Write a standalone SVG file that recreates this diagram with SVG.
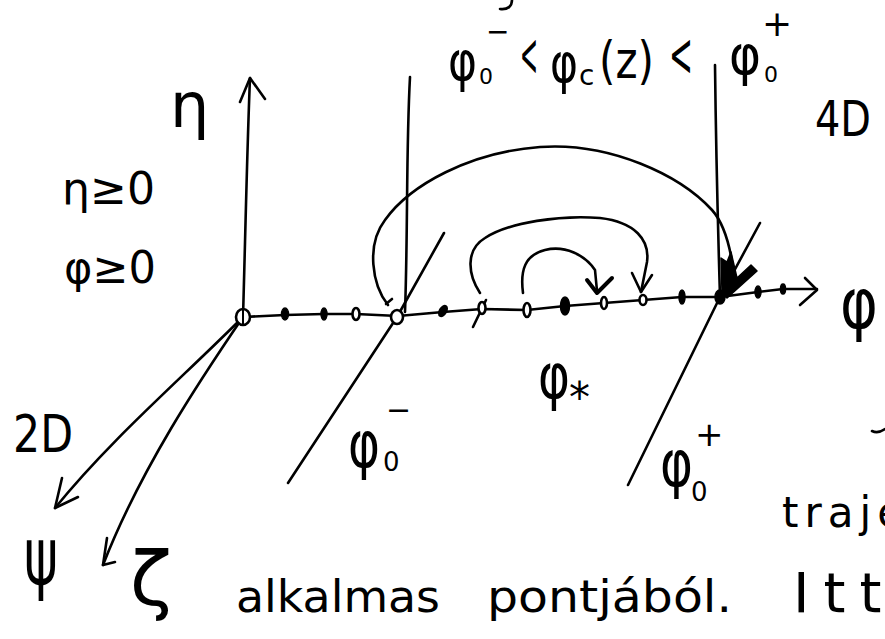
<svg xmlns="http://www.w3.org/2000/svg" width="885" height="639" viewBox="0 0 885 639">
<style>
.ln{fill:none;stroke:#000;stroke-width:2.6;stroke-linecap:round;stroke-linejoin:round}
.bd{fill:none;stroke:#000;stroke-width:4;stroke-linecap:round;stroke-linejoin:round}
.dot{fill:#000;stroke:#000;stroke-width:1.5}
.odot{fill:#fff;stroke:#000;stroke-width:2.6}
.t{font-family:"DejaVu Sans","Noto Sans",sans-serif;fill:#000}
</style>
<rect width="885" height="639" fill="#fff"/>
<g id="connectors">
  <path class="ln" d="M243,317 C245,250 247,150 250,78"/>
  <path class="ln" d="M240,102 L250,78 L265,99"/>
  <path class="ln" d="M243,317 L285,315 L324,314 L356,314 L398,316 L443,312 L482,309 L527,310 L565,306 L604,303 L643,300 L682,297 L720,297 L758,292 L783,289 L817,289"/>
  <path class="ln" d="M805,278 L817,290 L800,305"/>
  <path class="ln" d="M243,317 C180,380 110,440 55,508"/>
  <path class="ln" d="M62,478 L55,508 L78,497"/>
  <path class="ln" d="M243,317 C200,380 140,470 103,565"/>
  <path class="ln" d="M107,538 L103,565 L115,562"/>
  <path class="ln" d="M410,77 C406,150 408,230 405,312"/>
  <path class="ln" d="M715,65 C716,150 718,230 720,297"/>
  <path class="ln" d="M444,233 L397,317 L288,483"/>
  <path class="ln" d="M760,223 L720,297 L628,485"/>
  <path class="ln" d="M388,305 C372,285 366,245 385,220 C410,185 470,152 540,147 C610,142 680,175 712,210 C728,228 733,260 735,288"/>
  <path class="ln" d="M386,304 L392,299"/>
  <path d="M721,258 L727,262 L731,252 L737,278 L751,265 L757,271 L727,298 L722,292 Z" fill="#000" stroke="#000" stroke-width="1.5" stroke-linejoin="round"/>
  <path class="ln" d="M480,293 C468,275 465,250 485,238 C510,222 560,215 600,218 C635,222 650,240 647,262 L641,292"/>
  <path class="ln" d="M632,273 L641,292 L652,275"/>
  <path class="ln" d="M523,293 C520,270 525,255 545,250 C565,245 585,255 595,270 L597,291"/>
  <path class="bd" d="M587,280 L597,293 L612,278"/>
  <path class="ln" d="M473,327 L486,300"/>
</g>
<g id="dots">
  <ellipse class="odot" cx="243" cy="317" rx="7" ry="8" stroke-width="3.5"/>
  <line x1="243" y1="310" x2="243" y2="324" stroke="#000" stroke-width="2"/>
  <ellipse class="dot" cx="285" cy="314" rx="3.5" ry="6"/>
  <ellipse class="dot" cx="324" cy="314" rx="3" ry="6"/>
  <ellipse class="odot" cx="356" cy="314" rx="3.5" ry="6"/>
  <ellipse class="odot" cx="397" cy="317" rx="6" ry="7" stroke-width="3.5"/>
  <ellipse class="dot" cx="443" cy="311" rx="3.5" ry="6" transform="rotate(30 443 311)"/>
  <ellipse class="odot" cx="482" cy="308" rx="3.5" ry="6"/>
  <ellipse class="odot" cx="527" cy="310" rx="3.5" ry="7"/>
  <ellipse class="dot" cx="565" cy="306" rx="4.5" ry="9"/>
  <ellipse class="odot" cx="604" cy="303" rx="3" ry="6"/>
  <ellipse class="odot" cx="643" cy="300" rx="3.5" ry="5"/>
  <ellipse class="dot" cx="682" cy="297" rx="3" ry="7"/>
  <ellipse class="dot" cx="720" cy="297" rx="5" ry="7"/>
  <ellipse class="dot" cx="758" cy="292" rx="3" ry="6"/>
  <ellipse class="dot" cx="783" cy="289" rx="2.5" ry="5"/>
</g>
<g id="label-top">
  <text class="t" x="448" y="80" font-size="56" textLength="29" lengthAdjust="spacingAndGlyphs">φ</text>
  <text class="t" x="479" y="84" font-size="22">0</text>
  <text class="t" x="486" y="41" font-size="28">−</text>
  <text class="t" x="520" y="76" font-size="62" textLength="18" lengthAdjust="spacingAndGlyphs">&lt;</text>
  <text class="t" x="550" y="82" font-size="56" textLength="28" lengthAdjust="spacingAndGlyphs">φ</text>
  <text class="t" x="579" y="85" font-size="28">c</text>
  <text class="t" x="599" y="78" font-size="52" textLength="55" lengthAdjust="spacingAndGlyphs">(z)</text>
  <text class="t" x="669" y="76" font-size="62" textLength="24" lengthAdjust="spacingAndGlyphs">&lt;</text>
  <text class="t" x="729" y="74" font-size="56" textLength="32" lengthAdjust="spacingAndGlyphs">φ</text>
  <text class="t" x="762" y="36" font-size="36">+</text>
  <text class="t" x="764" y="82" font-size="22">0</text>
</g>
<g id="label-4D"><text class="t" x="815" y="136" font-size="50" textLength="56" lengthAdjust="spacingAndGlyphs">4D</text></g>
<g id="label-eta"><text class="t" x="170" y="127" font-size="62">η</text></g>
<g id="label-cond">
  <text class="t" x="62" y="204" font-size="44" textLength="93" lengthAdjust="spacingAndGlyphs">η≥0</text>
  <text class="t" x="64" y="283" font-size="44" textLength="92" lengthAdjust="spacingAndGlyphs">φ≥0</text>
</g>
<g id="label-2D"><text class="t" x="13" y="452" font-size="52" textLength="60" lengthAdjust="spacingAndGlyphs">2D</text></g>
<g id="label-psi"><text class="t" x="24" y="584" font-size="80" textLength="34" lengthAdjust="spacingAndGlyphs">ψ</text></g>
<g id="label-zeta"><text class="t" x="130" y="605" font-size="74" textLength="42" lengthAdjust="spacingAndGlyphs">ζ</text></g>
<g id="label-phi0minus">
  <text class="t" x="348" y="467" font-size="64" textLength="32" lengthAdjust="spacingAndGlyphs">φ</text>
  <text class="t" x="383" y="471" font-size="26">0</text>
  <text class="t" x="386" y="420" font-size="30">−</text>
</g>
<g id="label-phistar">
  <text class="t" x="538" y="398" font-size="62" textLength="32" lengthAdjust="spacingAndGlyphs">φ</text>
  <text class="t" x="569" y="412" font-size="42">*</text>
</g>
<g id="label-phi0plus">
  <text class="t" x="660" y="486" font-size="64" textLength="33" lengthAdjust="spacingAndGlyphs">φ</text>
  <text class="t" x="695" y="446" font-size="34">+</text>
  <text class="t" x="691" y="501" font-size="26">0</text>
</g>
<g id="label-phi"><text class="t" x="840" y="328" font-size="70" textLength="38" lengthAdjust="spacingAndGlyphs">φ</text></g>
<g id="fragments">
  <path class="ln" d="M512,0 C512,6 508,10 500,9"/>
  <path class="ln" d="M872,431 Q878,434 885,429"/>
  <text class="t" x="782" y="527" font-size="42" letter-spacing="6">traje</text>
</g>
<g id="bottom-text">
  <text class="t" x="236" y="612" font-size="44" textLength="204" lengthAdjust="spacingAndGlyphs">alkalmas</text>
  <text class="t" x="487" y="612" font-size="44" textLength="245" lengthAdjust="spacingAndGlyphs">pontjából.</text>
  <text class="t" x="793" y="612" font-size="56" letter-spacing="14">Itt</text>
</g>
</svg>
